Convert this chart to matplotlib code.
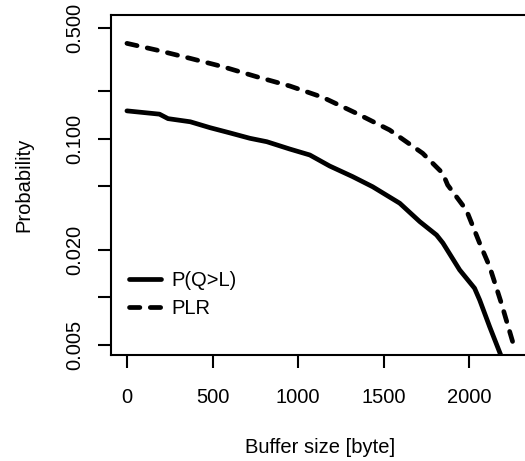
import numpy as np
from matplotlib import pyplot as plt

# data
buf_q   = [0, 190, 240, 370, 485, 600, 718, 817, 950, 1068, 1184, 1318, 1435,
           1593, 1710, 1808, 1845, 1943, 2030, 2060, 2118, 2195]
p_q     = [0.150, 0.143, 0.134, 0.128, 0.1175, 0.109, 0.1007, 0.0958, 0.0862,
           0.0790, 0.0673, 0.0577, 0.0498, 0.0392, 0.0300, 0.0247, 0.0220,
           0.01487, 0.0114, 0.0096, 0.00652, 0.0040]

buf_plr = [0, 173, 368, 560, 757, 951, 1143, 1340, 1534, 1727, 1844, 1873,
           1982, 2060, 2118, 2186, 2254]
plr     = [0.400, 0.363, 0.322, 0.285, 0.2464, 0.2153, 0.1827, 0.1448, 0.1136,
           0.081, 0.0606, 0.0511, 0.0355, 0.0219, 0.0156, 0.0092, 0.00517]

yticks      = [0.5, 0.2, 0.1, 0.05, 0.02, 0.01, 0.005]
ytick_lbls  = ['0.500', '', '0.100', '', '0.020', '', '0.005']
xticks      = [0, 500, 1000, 1500, 2000]

plt.rcParams['font.family'] = ['Liberation Sans', 'DejaVu Sans']
fs = 14.5

#plot:
plt.close('all')
fig = plt.figure(figsize=(5.25, 4.61), dpi=100)
ax = fig.add_axes([111/525, 106/461, 430/525, 340/461])
ax.plot(buf_q, p_q, color='black', lw=3.4, solid_capstyle='round',
        solid_joinstyle='round', label='P(Q>L)')
ax.plot(buf_plr, plr, color='black', lw=3.4, linestyle=(0, (2.2, 2.2)),
        dash_capstyle='round', label='PLR')

ax.set_yscale('log')
ax.set_xlim(-93, 2418)
ax.set_ylim(0.00432, 0.604)
ax.set_yticks(yticks)
ax.set_yticklabels(ytick_lbls, rotation=90, va='center')
ax.minorticks_off()
ax.set_xticks(xticks)
ax.tick_params(axis='both', length=9.5, width=1.5, labelsize=fs, direction='out')
ax.tick_params(axis='x', pad=14)
ax.tick_params(axis='y', pad=10)
for s in ax.spines.values():
    s.set_linewidth(1.5)

ax.set_xlabel('Buffer size [byte]', size=fs)
ax.set_ylabel('Probability', size=fs)
ax.xaxis.set_label_coords(0.486, -0.245)
ax.yaxis.set_label_coords(-0.181, 0.5)

ax.legend(loc='lower left', bbox_to_anchor=(0.0, 0.055), frameon=False,
          fontsize=fs, handlelength=1.6, handletextpad=0.5, labelspacing=0.45)

fig.savefig('out.png', dpi=100)
